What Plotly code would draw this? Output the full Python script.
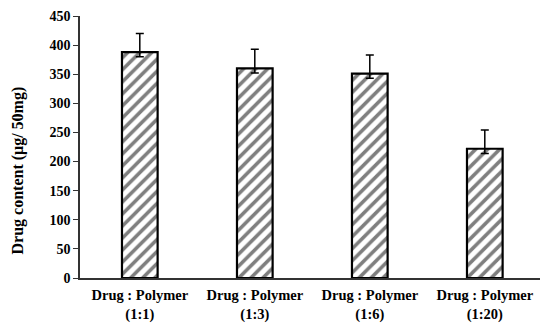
import plotly.graph_objects as go

categories = ["Drug : Polymer<br>(1:1)", "Drug : Polymer<br>(1:3)",
              "Drug : Polymer<br>(1:6)", "Drug : Polymer<br>(1:20)"]
drug_content = [388, 360, 351, 222]
error_up = [32, 33, 32, 32]
error_down = [8, 8, 8, 8]
y_ticks = [0, 50, 100, 150, 200, 250, 300, 350, 400, 450]
y_title = "Drug content (μg/ 50mg)"

serif_bold = dict(family="Liberation Serif", size=14, color="black", weight="bold")

fig = go.Figure(go.Bar(
    x=categories,
    y=drug_content,
    width=0.31,
    marker=dict(
        color="white",
        line=dict(color="black", width=2.2),
        pattern=dict(shape="/", fgcolor="black", bgcolor="white", size=8.5, solidity=0.42),
    ),
    error_y=dict(type="data", symmetric=False, array=error_up, arrayminus=error_down,
                 color="black", thickness=1.5, width=4),
))

# page body has an 8px default margin, so the figure is a bit smaller than the window
fig.update_layout(
    width=542, height=323,
    margin=dict(l=72, r=10, t=8, b=53),
    plot_bgcolor="white", paper_bgcolor="white",
    font=serif_bold,
    showlegend=False,
)
fig.update_xaxes(
    range=[-0.52, 3.48],
    showline=True, linecolor="#333", linewidth=1.5,
    ticks="", showgrid=False, automargin=False, ticklabelstandoff=3,
    tickfont=dict(family="Liberation Serif", size=14.5, color="black", weight="bold"),
)
fig.update_yaxes(
    range=[0, 450], tickvals=y_ticks,
    showline=True, linecolor="#333", linewidth=1.5,
    ticks="outside", ticklen=5, tickcolor="#333", showgrid=False, zeroline=False,
    automargin=False,
    tickfont=serif_bold,
)
fig.add_annotation(
    text=y_title, textangle=-90, showarrow=False,
    xref="paper", yref="paper", x=-0.135, y=0.41, xanchor="center", yanchor="middle",
    font=dict(family="Liberation Serif", size=16, color="black", weight="bold"),
)

fig.write_html("out.html")
